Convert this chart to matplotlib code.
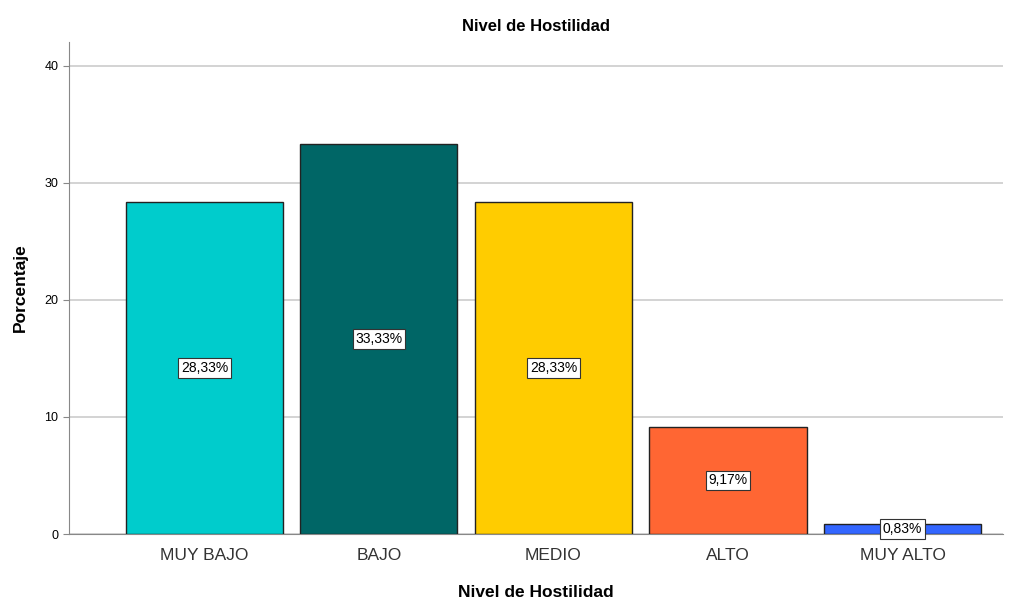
import matplotlib.pyplot as plt

categorias = ["MUY BAJO", "BAJO", "MEDIO", "ALTO", "MUY ALTO"]
porcentajes = [28.33, 33.33, 28.33, 9.17, 0.83]
colores = ["#00CCCC", "#006666", "#FFCC00", "#FF6633", "#3366FF"]
ticks_y = [0, 10, 20, 30, 40]

plt.rcParams['font.family'] = ['Liberation Sans', 'DejaVu Sans']

fig = plt.figure(figsize=(10.23, 6.03), dpi=100)
ax = fig.add_axes([0.0674, 0.1144, 0.913, 0.8156])

x = range(len(categorias))
ax.bar(x, porcentajes, width=0.9, color=colores, edgecolor="#222222", linewidth=1, zorder=3)

# etiquetas de porcentaje en el centro de cada barra
for i, v in enumerate(porcentajes):
    texto = f"{v:.2f}%".replace(".", ",")
    ax.text(i, v / 2, texto, ha="center", va="center", fontsize=10, zorder=4,
            bbox=dict(boxstyle="square,pad=0.2", facecolor="white", edgecolor="#333333", linewidth=0.8))

ax.set_xlim(-0.776, 4.575)
ax.set_ylim(0, 42)
ax.set_xticks(list(x))
ax.set_xticklabels(categorias, fontsize=12.5, color="#333333")
ax.set_yticks(ticks_y)
ax.tick_params(axis="y", labelsize=9, length=4, color="#888888")
ax.tick_params(axis="x", length=0, pad=10)
ax.yaxis.grid(True, color="#CCCCCC", linewidth=1.2, zorder=0)

for s in ["top", "right"]:
    ax.spines[s].set_visible(False)
ax.spines["left"].set_color("#888888")
ax.spines["bottom"].set_color("#888888")

ax.set_title("Nivel de Hostilidad", fontsize=12, fontweight="bold", pad=8)
ax.set_xlabel("Nivel de Hostilidad", fontsize=12.5, fontweight="bold", labelpad=16)
ax.set_ylabel("Porcentaje", fontsize=12.5, fontweight="bold", labelpad=12)

fig.savefig("out.png", dpi=100)
